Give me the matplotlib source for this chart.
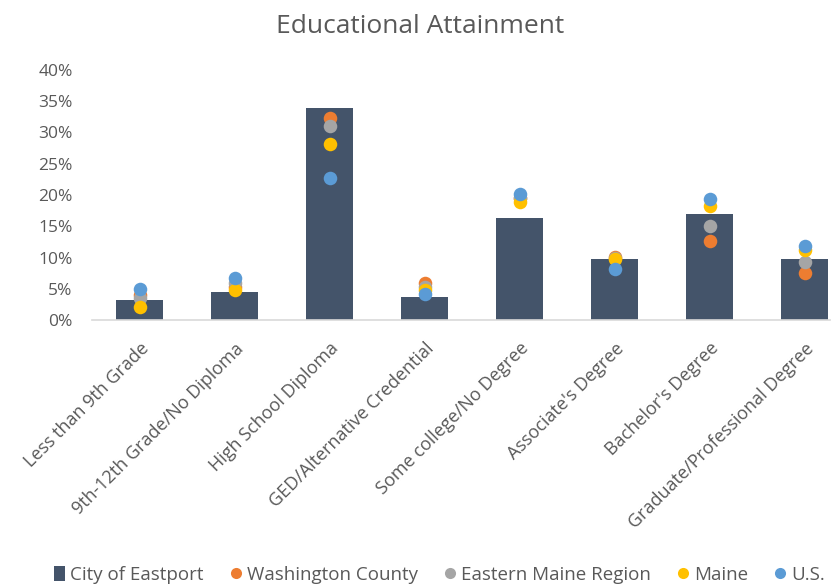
import matplotlib
matplotlib.use("Agg")
import matplotlib.pyplot as plt
import numpy as np
from matplotlib.ticker import PercentFormatter
from matplotlib.lines import Line2D
from matplotlib.patches import Patch

plt.rcParams['font.family'] = ['Open Sans', 'DejaVu Sans']

categories = ["Less than 9th Grade", "9th-12th Grade/No Diploma", "High School Diploma",
              "GED/Alternative Credential", "Some college/No Degree", "Associate's Degree",
              "Bachelor's Degree", "Graduate/Professional Degree"]
eastport = [3.2, 4.5, 34.0, 3.7, 16.3, 9.7, 16.9, 9.7]
washington = [4.0, 5.3, 32.4, 6.0, 19.5, 10.1, 12.7, 7.6]
eastern_maine = [3.5, 5.9, 31.1, 5.3, 19.6, 9.9, 15.0, 9.3]
maine = [2.1, 4.8, 28.2, 4.8, 18.9, 9.7, 18.2, 11.2]
us = [4.9, 6.8, 22.7, 4.1, 20.2, 8.1, 19.4, 11.8]

fig = plt.figure(figsize=(8.4, 5.88), dpi=100)
ax = fig.add_axes([92/840, 268/588, 738/840, 250/588])

x = np.arange(len(categories))
bar_color = '#44546A'
ax.bar(x, eastport, width=0.5, color=bar_color, zorder=2)
series = [(washington, '#ED7D31', 'Washington County'),
          (eastern_maine, '#A5A5A5', 'Eastern Maine Region'),
          (maine, '#FFC000', 'Maine'),
          (us, '#5B9BD5', 'U.S.')]
for i, (vals, c, lab) in enumerate(series):
    ax.scatter(x, vals, s=95, color=c, zorder=3 + i, linewidths=0)

ax.set_xlim(-0.5, (830 - 92) / 95 - 0.5)
ax.set_ylim(0, 40)
ax.set_yticks(np.arange(0, 41, 5))
ax.yaxis.set_major_formatter(PercentFormatter(decimals=0))
ax.set_xticks(x)
ax.set_xticklabels(categories, rotation=45, ha='right', rotation_mode='anchor')
for s in ['top', 'right', 'left']:
    ax.spines[s].set_visible(False)
ax.spines['bottom'].set_color('#D9D9D9')
ax.spines['bottom'].set_linewidth(1.2)
ax.tick_params(axis='both', length=0, colors='#595959')
ax.tick_params(axis='x', pad=14, labelsize=13)
ax.tick_params(axis='y', pad=14, labelsize=12.5)

fig.text(0.5, 0.955, 'Educational Attainment', ha='center', va='center',
         fontsize=19, color='#595959')

handles = [Patch(facecolor=bar_color, edgecolor='none')]
labels = ['City of Eastport']
for vals, c, lab in series:
    handles.append(Line2D([], [], marker='o', linestyle='none', markersize=8,
                          markerfacecolor=c, markeredgewidth=0))
    labels.append(lab)
leg = fig.legend(handles, labels, loc='center', bbox_to_anchor=(0.523, 0.022), ncol=5,
                 frameon=False, fontsize=13.5, handletextpad=0.3, columnspacing=1.4,
                 handlelength=0.6, handleheight=0.8)
for t in leg.get_texts():
    t.set_color('#595959')

fig.savefig('out.png', dpi=100)
